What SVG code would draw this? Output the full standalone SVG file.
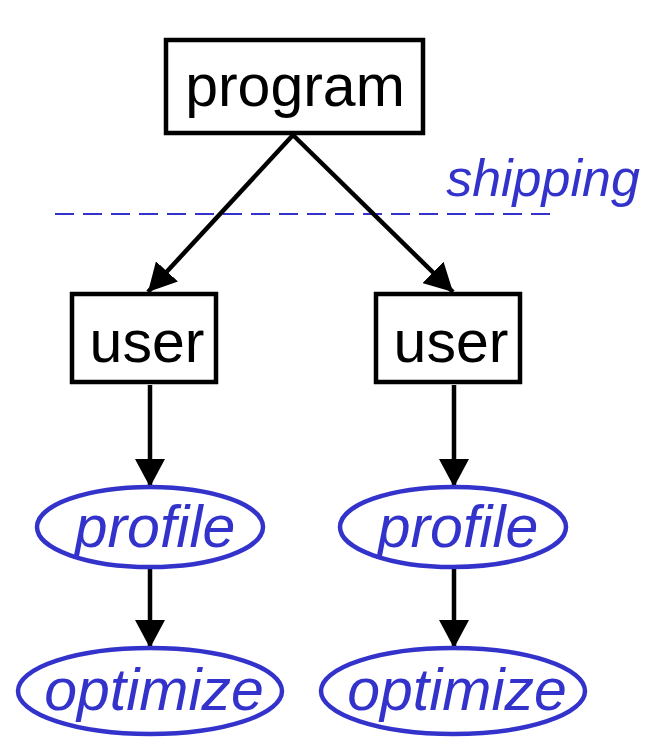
<svg xmlns="http://www.w3.org/2000/svg" width="650" height="741" viewBox="0 0 650 741">
<defs>
<style>
.box{fill:#fff;stroke:#000;stroke-width:4.5}
.ell{fill:#fff;stroke:#3333cc;stroke-width:4.5}
.t{font-family:"Liberation Sans",Arial,sans-serif;font-size:59px;fill:#000;text-anchor:middle}
.b{font-family:"Liberation Sans",Arial,sans-serif;font-size:59px;font-style:italic;fill:#3333cc;text-anchor:middle}
.edge{stroke:#000;stroke-width:4.5;fill:none;marker-end:url(#ah)}
</style>
<marker id="ah" markerUnits="userSpaceOnUse" markerWidth="30" markerHeight="30" refX="28" refY="15" orient="auto" viewBox="0 0 30 30">
<path d="M0,0 L28,15 L0,30 Z" fill="#000"/>
</marker>
</defs>
<g id="shipping">
<line x1="55" y1="214" x2="552" y2="214" stroke="#3333cc" stroke-width="2" stroke-dasharray="19 9"/>
<text x="543" y="196" class="b" style="font-size:52px">shipping</text>
</g>
<g id="connectors">
<line class="edge" x1="293" y1="135" x2="148" y2="292"/>
<line class="edge" x1="293" y1="135" x2="453" y2="292"/>
<line class="edge" x1="150" y1="385" x2="150" y2="487"/>
<line class="edge" x1="454" y1="385" x2="454" y2="487"/>
<line class="edge" x1="150" y1="567" x2="150" y2="648"/>
<line class="edge" x1="454" y1="567" x2="454" y2="648"/>
</g>
<g id="program">
<rect class="box" x="166" y="40" width="257" height="93"/>
<text class="t" x="295" y="106">program</text>
</g>
<g id="user1">
<rect class="box" x="72" y="294" width="144" height="88"/>
<text class="t" x="147" y="362">user</text>
</g>
<g id="user2">
<rect class="box" x="376" y="294" width="144" height="88"/>
<text class="t" x="451" y="362">user</text>
</g>
<g id="profile1">
<ellipse class="ell" cx="150" cy="527" rx="113" ry="40"/>
<text class="b" x="155" y="547">profile</text>
</g>
<g id="profile2">
<ellipse class="ell" cx="453" cy="527" rx="113" ry="40"/>
<text class="b" x="458" y="547">profile</text>
</g>
<g id="optimize1">
<ellipse class="ell" cx="150" cy="691" rx="132" ry="43"/>
<text class="b" x="154" y="710">optimize</text>
</g>
<g id="optimize2">
<ellipse class="ell" cx="453" cy="691" rx="132" ry="43"/>
<text class="b" x="457" y="710">optimize</text>
</g>
</svg>
